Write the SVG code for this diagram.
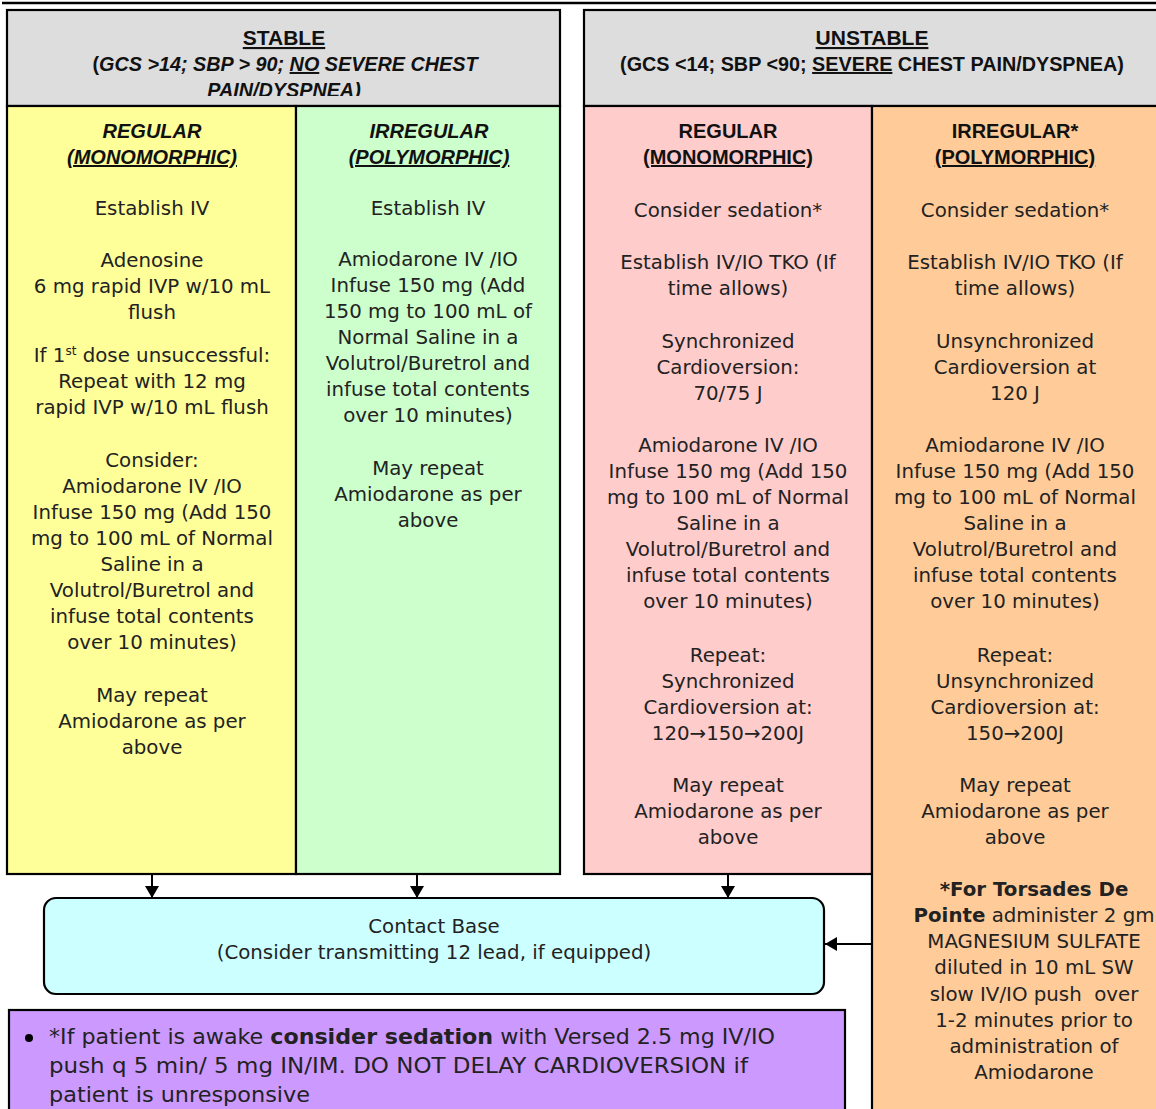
<svg xmlns="http://www.w3.org/2000/svg" width="1156" height="1109" viewBox="0 0 1156 1109">
<defs>
<style>
.box{stroke:#000;stroke-width:2.2}
.t{font-family:"DejaVu Sans",Verdana,sans-serif;font-size:19.8px;fill:#222;text-anchor:middle}
.s{font-family:"DejaVu Sans",Verdana,sans-serif;font-size:21.5px;fill:#222;text-anchor:start}
.h{font-family:"Liberation Sans",Arial,sans-serif;font-weight:bold;fill:#111;text-anchor:middle}
.u{text-decoration:underline}
.b{font-weight:bold}
.c{stroke:#000;stroke-width:2;fill:none}
</style>
<marker id="ah" viewBox="0 0 12 14" refX="12" refY="7" markerWidth="12" markerHeight="14" markerUnits="userSpaceOnUse" orient="auto">
<path d="M0,0 L12,7 L0,14 Z" fill="#000"/>
</marker>
<clipPath id="hclip"><rect x="7" y="10" width="553" height="86"/></clipPath>
</defs>
<rect width="1156" height="1109" fill="#fff"/>
<line x1="2" y1="3" x2="1156" y2="3" stroke="#000" stroke-width="2.5"/>

<g id="stable-header">
<rect class="box" x="7" y="10" width="553" height="96" fill="#DDDDDD"/>
<g clip-path="url(#hclip)">
<text class="h" x="284" y="45" font-size="21"><tspan class="u">STABLE</tspan></text>
<text class="h" x="285" y="71" font-size="19.8">(<tspan font-style="italic">GCS &gt;14; SBP &gt; 90; <tspan class="u">NO</tspan> SEVERE CHEST</tspan></text>
<text class="h" x="284" y="97" font-size="19.8" font-style="italic">PAIN/DYSPNEA)</text>
</g>
</g>

<g id="unstable-header">
<rect class="box" x="584" y="10" width="580" height="96" fill="#DDDDDD"/>
<text class="h" x="872" y="45" font-size="21"><tspan class="u">UNSTABLE</tspan></text>
<text class="h" x="872" y="71" font-size="19.8">(GCS &lt;14; SBP &lt;90; <tspan class="u">SEVERE</tspan> CHEST PAIN/DYSPNEA)</text>
</g>

<g id="stable-regular">
<rect class="box" x="7" y="106" width="289" height="768" fill="#FFFF99"/>
<text class="h" x="152" y="138" font-size="20" font-style="italic">REGULAR</text>
<text class="h" x="152" y="164" font-size="20" font-style="italic"><tspan class="u">(MONOMORPHIC)</tspan></text>
<text class="t" x="152" y="215">Establish IV</text>
<text class="t" x="152" y="267">Adenosine</text>
<text class="t" x="152" y="293">6 mg rapid IVP w/10 mL</text>
<text class="t" x="152" y="319">flush</text>
<text class="t" x="152" y="362">If 1<tspan font-size="12" dy="-7">st</tspan><tspan dy="7"> dose unsuccessful:</tspan></text>
<text class="t" x="152" y="388">Repeat with 12 mg</text>
<text class="t" x="152" y="414">rapid IVP w/10 mL flush</text>
<text class="t" x="152" y="467">Consider:</text>
<text class="t" x="152" y="493">Amiodarone IV /IO</text>
<text class="t" x="152" y="519">Infuse 150 mg (Add 150</text>
<text class="t" x="152" y="545">mg to 100 mL of Normal</text>
<text class="t" x="152" y="571">Saline in a</text>
<text class="t" x="152" y="597">Volutrol/Buretrol and</text>
<text class="t" x="152" y="623">infuse total contents</text>
<text class="t" x="152" y="649">over 10 minutes)</text>
<text class="t" x="152" y="702">May repeat</text>
<text class="t" x="152" y="728">Amiodarone as per</text>
<text class="t" x="152" y="754">above</text>
</g>

<g id="stable-irregular">
<rect class="box" x="296" y="106" width="264" height="768" fill="#CCFFCC"/>
<text class="h" x="429" y="138" font-size="20" font-style="italic">IRREGULAR</text>
<text class="h" x="429" y="164" font-size="20" font-style="italic"><tspan class="u">(POLYMORPHIC)</tspan></text>
<text class="t" x="428" y="215">Establish IV</text>
<text class="t" x="428" y="266">Amiodarone IV /IO</text>
<text class="t" x="428" y="292">Infuse 150 mg (Add</text>
<text class="t" x="428" y="318">150 mg to 100 mL of</text>
<text class="t" x="428" y="344">Normal Saline in a</text>
<text class="t" x="428" y="370">Volutrol/Buretrol and</text>
<text class="t" x="428" y="396">infuse total contents</text>
<text class="t" x="428" y="422">over 10 minutes)</text>
<text class="t" x="428" y="475">May repeat</text>
<text class="t" x="428" y="501">Amiodarone as per</text>
<text class="t" x="428" y="527">above</text>
</g>

<g id="unstable-regular">
<rect class="box" x="584" y="106" width="288" height="768" fill="#FFCCCC"/>
<text class="h" x="728" y="138" font-size="20">REGULAR</text>
<text class="h" x="728" y="164" font-size="20"><tspan class="u">(MONOMORPHIC)</tspan></text>
<text class="t" x="728" y="217">Consider sedation*</text>
<text class="t" x="728" y="269">Establish IV/IO TKO (If</text>
<text class="t" x="728" y="295">time allows)</text>
<text class="t" x="728" y="348">Synchronized</text>
<text class="t" x="728" y="374">Cardioversion:</text>
<text class="t" x="728" y="400">70/75 J</text>
<text class="t" x="728" y="452">Amiodarone IV /IO</text>
<text class="t" x="728" y="478">Infuse 150 mg (Add 150</text>
<text class="t" x="728" y="504">mg to 100 mL of Normal</text>
<text class="t" x="728" y="530">Saline in a</text>
<text class="t" x="728" y="556">Volutrol/Buretrol and</text>
<text class="t" x="728" y="582">infuse total contents</text>
<text class="t" x="728" y="608">over 10 minutes)</text>
<text class="t" x="728" y="662">Repeat:</text>
<text class="t" x="728" y="688">Synchronized</text>
<text class="t" x="728" y="714">Cardioversion at:</text>
<text class="t" x="728" y="740">120→150→200J</text>
<text class="t" x="728" y="792">May repeat</text>
<text class="t" x="728" y="818">Amiodarone as per</text>
<text class="t" x="728" y="844">above</text>
</g>

<g id="unstable-irregular">
<rect class="box" x="872" y="106" width="292" height="1010" fill="#FFCC99"/>
<text class="h" x="1015" y="138" font-size="20">IRREGULAR*</text>
<text class="h" x="1015" y="164" font-size="20"><tspan class="u">(POLYMORPHIC)</tspan></text>
<text class="t" x="1015" y="217">Consider sedation*</text>
<text class="t" x="1015" y="269">Establish IV/IO TKO (If</text>
<text class="t" x="1015" y="295">time allows)</text>
<text class="t" x="1015" y="348">Unsynchronized</text>
<text class="t" x="1015" y="374">Cardioversion at</text>
<text class="t" x="1015" y="400">120 J</text>
<text class="t" x="1015" y="452">Amiodarone IV /IO</text>
<text class="t" x="1015" y="478">Infuse 150 mg (Add 150</text>
<text class="t" x="1015" y="504">mg to 100 mL of Normal</text>
<text class="t" x="1015" y="530">Saline in a</text>
<text class="t" x="1015" y="556">Volutrol/Buretrol and</text>
<text class="t" x="1015" y="582">infuse total contents</text>
<text class="t" x="1015" y="608">over 10 minutes)</text>
<text class="t" x="1015" y="662">Repeat:</text>
<text class="t" x="1015" y="688">Unsynchronized</text>
<text class="t" x="1015" y="714">Cardioversion at:</text>
<text class="t" x="1015" y="740">150→200J</text>
<text class="t" x="1015" y="792">May repeat</text>
<text class="t" x="1015" y="818">Amiodarone as per</text>
<text class="t" x="1015" y="844">above</text>
<text class="t b" x="1034" y="896">*For Torsades De</text>
<text class="t" x="1034" y="922" font-size="18.5"><tspan class="b">Pointe</tspan> administer 2 gm</text>
<text class="t" x="1034" y="948" font-size="18.5">MAGNESIUM SULFATE</text>
<text class="t" x="1034" y="974" font-size="18.5">diluted in 10 mL SW</text>
<text class="t" x="1034" y="1001" font-size="18.5" xml:space="preserve">slow IV/IO push  over</text>
<text class="t" x="1034" y="1027" font-size="18.5">1-2 minutes prior to</text>
<text class="t" x="1034" y="1053" font-size="18.5">administration of</text>
<text class="t" x="1034" y="1079" font-size="18.5">Amiodarone</text>
</g>

<g id="contact-base">
<rect class="box" x="44" y="898" width="780" height="96" rx="12" fill="#CCFFFF"/>
<text class="t" x="434" y="933">Contact Base</text>
<text class="t" x="434" y="959">(Consider transmitting 12 lead, if equipped)</text>
</g>

<g id="sedation-note">
<rect class="box" x="9" y="1010" width="836" height="110" fill="#CC99FF"/>
<circle cx="29" cy="1038" r="4" fill="#000"/>
<text class="s" x="49" y="1044" textLength="726" lengthAdjust="spacingAndGlyphs">*If patient is awake <tspan class="b">consider sedation</tspan> with Versed 2.5 mg IV/IO</text>
<text class="s" x="49" y="1073" textLength="699" lengthAdjust="spacingAndGlyphs">push q 5 min/ 5 mg IN/IM. DO NOT DELAY CARDIOVERSION if</text>
<text class="s" x="49" y="1102" textLength="261" lengthAdjust="spacingAndGlyphs">patient is unresponsive</text>
</g>

<g id="connectors">
<line class="c" x1="152" y1="874" x2="152" y2="898" marker-end="url(#ah)"/>
<line class="c" x1="417" y1="874" x2="417" y2="898" marker-end="url(#ah)"/>
<line class="c" x1="728" y1="874" x2="728" y2="898" marker-end="url(#ah)"/>
<line class="c" x1="872" y1="944" x2="825" y2="944" marker-end="url(#ah)"/>
</g>
</svg>
